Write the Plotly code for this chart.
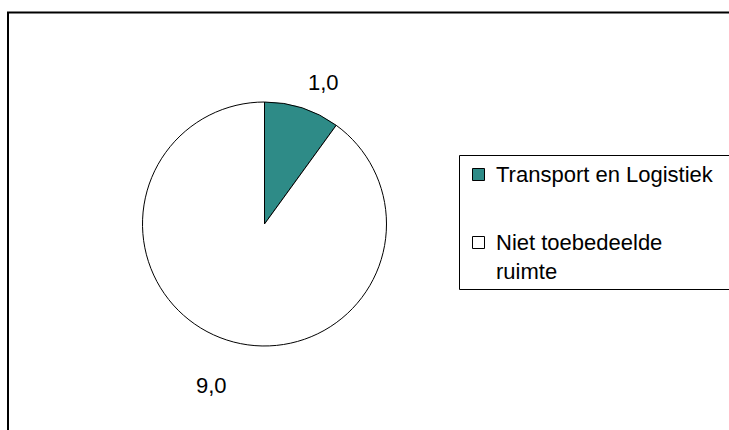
import math
import plotly.graph_objects as go

# Data
labels = ["Transport en Logistiek", "Niet toebedeelde ruimte"]
values = [1.0, 9.0]
colors = ["#2E8B87", "#FFFFFF"]

W, H = 729, 430
FONT = "Liberation Sans, Arial, sans-serif"
FS = 22

# Pie geometry in pixels
cx, cy, R = 264.5, 224.0, 122.0


def px(x):
    return x / W


def py(y):
    return 1 - y / H


fig = go.Figure()
fig.add_trace(go.Pie(
    labels=labels,
    values=values,
    sort=False,
    direction="clockwise",
    rotation=0,
    marker=dict(colors=colors, line=dict(color="black", width=1)),
    textinfo="none",
    hoverinfo="label+value",
    showlegend=False,
    domain=dict(x=[px(cx - R), px(cx + R)], y=[py(cy + R), py(cy - R)]),
))

# Value labels placed outside each slice along its mid-angle
label_r = [134, 170]
label_xanchor = ["left", "center"]
label_yanchor = ["bottom", "middle"]
total = sum(values)
cum = 0.0
annotations = []
for i, v in enumerate(values):
    mid = (cum + v / 2) / total * 2 * math.pi
    cum += v
    lx = cx + label_r[i] * math.sin(mid)
    ly = cy - label_r[i] * math.cos(mid)
    annotations.append(dict(
        x=px(lx), y=py(ly), xref="paper", yref="paper",
        text=f"{v:.1f}".replace(".", ","), showarrow=False,
        xanchor=label_xanchor[i], yanchor=label_yanchor[i],
        font=dict(family=FONT, size=FS, color="black"),
    ))

# Legend drawn as a box with swatches and wrapped text
shapes = []
shapes.append(dict(type="rect", xref="paper", yref="paper",
                   x0=px(459.5), x1=px(760), y0=py(289.5), y1=py(155.5),
                   line=dict(color="black", width=1), fillcolor="rgba(0,0,0,0)"))
legend_text = ["Transport en Logistiek", "Niet toebedeelde<br>ruimte"]
swatch_y = [174.5, 242.5]
text_y = [174.5, 257]
for i, t in enumerate(legend_text):
    sy = swatch_y[i]
    shapes.append(dict(type="rect", xref="paper", yref="paper",
                       x0=px(472.5), x1=px(484.5), y0=py(sy + 6), y1=py(sy - 6),
                       line=dict(color="black", width=1), fillcolor=colors[i]))
    annotations.append(dict(
        x=px(494), y=py(text_y[i]), xref="paper", yref="paper",
        text=t, showarrow=False, xanchor="left", yanchor="middle", align="left",
        font=dict(family=FONT, size=FS, color="black"),
    ))

# Outer chart frame
shapes.append(dict(type="rect", xref="paper", yref="paper",
                   x0=px(8), x1=px(760), y0=py(460), y1=py(12.5),
                   line=dict(color="black", width=2), fillcolor="rgba(0,0,0,0)",
                   layer="below"))

fig.update_layout(
    width=W, height=H,
    margin=dict(l=0, r=0, t=0, b=0),
    paper_bgcolor="white", plot_bgcolor="white",
    annotations=annotations,
    shapes=shapes,
)

fig.write_html("out.html")
